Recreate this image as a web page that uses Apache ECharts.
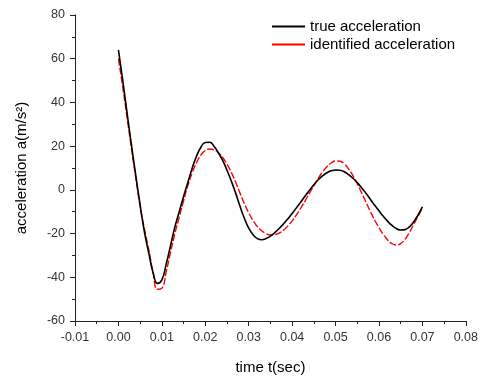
<!DOCTYPE html>
<html>
<head>
<meta charset="utf-8">
<script src="https://cdn.jsdelivr.net/npm/echarts@6/dist/echarts.min.js"></script>
<style>
html,body{margin:0;padding:0;background:#fff;}
#c{width:481px;height:380px;}
</style>
</head>
<body>
<div id="c"></div>
<script>
// time samples (sec)
var timeSec = [
  0.000,0.001,0.002,0.003,0.004,0.005,0.006,0.007,0.008,0.009,
  0.010,0.011,0.012,0.013,0.014,0.015,0.016,0.017,0.018,0.019,
  0.020,0.021,0.022,0.023,0.024,0.025,0.026,0.027,0.028,0.029,
  0.030,0.031,0.032,0.033,0.034,0.035,0.036,0.037,0.038,0.039,
  0.040,0.041,0.042,0.043,0.044,0.045,0.046,0.047,0.048,0.049,
  0.050,0.051,0.052,0.053,0.054,0.055,0.056,0.057,0.058,0.059,
  0.060,0.061,0.062,0.063,0.064,0.065,0.066,0.067,0.068,0.069,
  0.070
];
// true acceleration (black)
var trueAcc = [
  64,50,35,20.5,6.5,-7,-19.5,-29,-38,-42.8,
  -41.2,-34,-25.5,-17,-10,-3,3.5,10,15.5,19.5,
  21.7,21.8,20,17,13.5,9,4,-1.5,-7.5,-13,
  -17.5,-20.5,-22.3,-22.8,-22.3,-21.2,-19.6,-17.7,-15.6,-13.3,
  -10.8,-8.2,-5.5,-2.8,-0.2,2.3,4.6,6.4,7.8,8.7,
  9.1,9.0,8.3,7.0,5.3,3.3,1.0,-1.6,-4.3,-7.0,
  -9.6,-12.1,-14.4,-16.3,-17.7,-18.4,-18.2,-16.9,-14.6,-11.5,
  -7.8
];
// identified acceleration (red)
var identAcc = [
  60,47,33,19,5.5,-7.5,-18,-27.5,-38,-45.5,
  -45,-37.5,-28.5,-20,-12.5,-5,2,8,12.5,16,
  18,18.7,18.3,17,14.8,11.8,8,3.5,-1.5,-6.3,
  -10.5,-14,-16.8,-18.7,-20,-20.6,-20.5,-19.8,-18.5,-16.6,
  -14.2,-11.4,-8.3,-5,-1.5,2,5.3,8.2,10.6,12.3,
  13.2,13.1,11.9,9.6,6.5,2.8,-1.3,-5.6,-9.8,-13.8,
  -17.3,-20.4,-22.9,-24.6,-25.2,-24.6,-22.6,-19.5,-15.8,-12,
  -8.3
];
var seriesNames = ['true acceleration', 'identified acceleration'];
var xTicks = {min: -0.01, max: 0.08, step: 0.01};
var yTicks = {min: -60, max: 80, step: 20};

function pairs(ys){ return timeSec.map(function(t,i){ return [t, ys[i]]; }); }

var font = 'Arial, "Liberation Sans", sans-serif';
var chart = echarts.init(document.getElementById('c'), null, {renderer:'canvas'});
chart.setOption({
  animation: false,
  backgroundColor: '#fff',
  grid: {left: 75, right: 14, top: 15, bottom: 53, containLabel: false},
  legend: {
    orient: 'vertical',
    left: 272, top: 19, padding: 0,
    itemWidth: 33, itemHeight: 2, itemGap: 3,
    icon: 'rect',
    textStyle: {fontFamily: font, fontSize: 15, color: '#000'},
    data: seriesNames
  },
  xAxis: {
    type: 'value',
    min: xTicks.min, max: xTicks.max, interval: xTicks.step,
    name: 'time t(sec)', nameLocation: 'middle', nameGap: 39,
    nameTextStyle: {fontFamily: font, fontSize: 15, color: '#000'},
    axisLine: {show: true, onZero: false, lineStyle: {color: '#222', width: 1}},
    axisTick: {show: true, length: 5, lineStyle: {color: '#222'}},
    minorTick: {show: true, splitNumber: 2, length: 3, lineStyle: {color: '#222'}},
    splitLine: {show: false},
    axisLabel: {fontFamily: font, fontSize: 12.5, color: '#333', margin: 10,
      formatter: function(v){ return v.toFixed(2); }}
  },
  yAxis: {
    type: 'value',
    min: yTicks.min, max: yTicks.max, interval: yTicks.step,
    name: 'acceleration a(m/s²)', nameLocation: 'middle', nameGap: 46,
    nameTextStyle: {fontFamily: font, fontSize: 15, color: '#000'},
    axisLine: {show: true, onZero: false, lineStyle: {color: '#222', width: 1}},
    axisTick: {show: true, length: 5, lineStyle: {color: '#222'}},
    minorTick: {show: true, splitNumber: 2, length: 3, lineStyle: {color: '#222'}},
    splitLine: {show: false},
    axisLabel: {fontFamily: font, fontSize: 12.5, color: '#333', margin: 10}
  },
  series: [
    {
      name: seriesNames[0], type: 'line', data: pairs(trueAcc),
      showSymbol: false, symbol: 'none', smooth: 0.5,
      lineStyle: {color: '#000', width: 1.6},
      itemStyle: {color: '#000'}, z: 3
    },
    {
      name: seriesNames[1], type: 'line', data: pairs(identAcc),
      showSymbol: false, symbol: 'none', smooth: 0.5,
      lineStyle: {color: '#ff0000', width: 1.4, type: [7, 2]},
      itemStyle: {color: '#ff0000'}, z: 2
    }
  ]
});
</script>
</body>
</html>
